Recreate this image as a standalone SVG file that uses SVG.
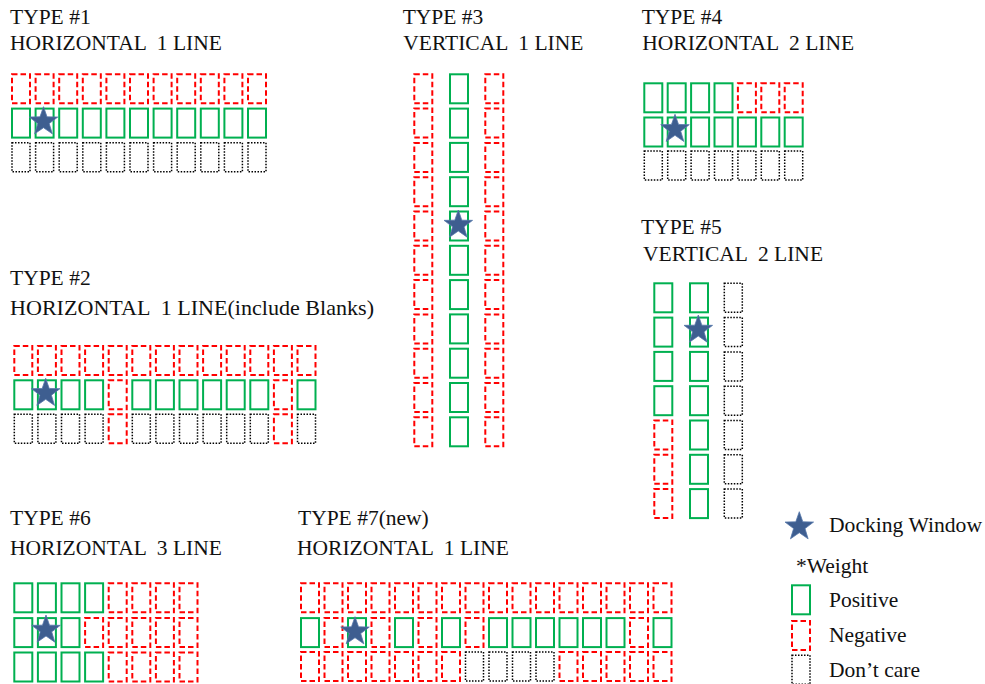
<svg xmlns="http://www.w3.org/2000/svg" width="985" height="684" viewBox="0 0 985 684" font-family="'Liberation Serif', 'Times New Roman', serif" font-size="21.5">
<style>
.p{fill:none;stroke:#00B050;stroke-width:2}
.n{fill:none;stroke:#FF0000;stroke-width:2;stroke-dasharray:5.5 3}
.d{fill:none;stroke:#000;stroke-width:1.5;stroke-dasharray:1.5 1.5}
.star{fill:#3E5E90;stroke:#5577AA;stroke-width:0.8}
</style>
<defs>
<rect id="P" class="p" width="18" height="29"/>
<rect id="N" class="n" width="18" height="29"/>
<rect id="D" class="d" width="18" height="29"/>
<polygon id="S" class="star" points="0,-15 3.527,-4.854 14.266,-4.635 5.706,1.854 8.817,12.135 0,6 -8.817,12.135 -5.706,1.854 -14.266,-4.635 -3.527,-4.854"/>
</defs>
<rect width="985" height="684" fill="#fff"/>

<g id="type1">
<text x="10" y="24" font-family="Liberation Serif" fill="#111">TYPE #1</text>
<text x="10" y="50" font-family="Liberation Serif" fill="#111" style="white-space:pre">HORIZONTAL  1 LINE</text>
<g transform="translate(12,74.3)">
<use href="#N" x="0" y="0"/><use href="#N" x="23.6" y="0"/><use href="#N" x="47.2" y="0"/><use href="#N" x="70.8" y="0"/><use href="#N" x="94.4" y="0"/><use href="#N" x="118" y="0"/><use href="#N" x="141.6" y="0"/><use href="#N" x="165.2" y="0"/><use href="#N" x="188.8" y="0"/><use href="#N" x="212.4" y="0"/><use href="#N" x="236" y="0"/>
<use href="#P" x="0" y="34.3"/><use href="#P" x="23.6" y="34.3"/><use href="#P" x="47.2" y="34.3"/><use href="#P" x="70.8" y="34.3"/><use href="#P" x="94.4" y="34.3"/><use href="#P" x="118" y="34.3"/><use href="#P" x="141.6" y="34.3"/><use href="#P" x="165.2" y="34.3"/><use href="#P" x="188.8" y="34.3"/><use href="#P" x="212.4" y="34.3"/><use href="#P" x="236" y="34.3"/>
<use href="#D" x="0" y="68.4"/><use href="#D" x="23.6" y="68.4"/><use href="#D" x="47.2" y="68.4"/><use href="#D" x="70.8" y="68.4"/><use href="#D" x="94.4" y="68.4"/><use href="#D" x="118" y="68.4"/><use href="#D" x="141.6" y="68.4"/><use href="#D" x="165.2" y="68.4"/><use href="#D" x="188.8" y="68.4"/><use href="#D" x="212.4" y="68.4"/><use href="#D" x="236" y="68.4"/>
</g>
<use href="#S" x="43.5" y="121.7"/>
</g>

<g id="type2">
<text x="10" y="285" font-family="Liberation Serif" fill="#111">TYPE #2</text>
<text x="10" y="315" font-family="Liberation Serif" fill="#111" style="white-space:pre" textLength="364" lengthAdjust="spacingAndGlyphs">HORIZONTAL  1 LINE(include Blanks)</text>
<g transform="translate(14.3,346)">
<use href="#N" x="0" y="0"/><use href="#N" x="23.6" y="0"/><use href="#N" x="47.2" y="0"/><use href="#N" x="70.8" y="0"/><use href="#N" x="94.4" y="0"/><use href="#N" x="118" y="0"/><use href="#N" x="141.6" y="0"/><use href="#N" x="165.2" y="0"/><use href="#N" x="188.8" y="0"/><use href="#N" x="212.4" y="0"/><use href="#N" x="236" y="0"/><use href="#N" x="259.6" y="0"/><use href="#N" x="283.2" y="0"/>
<use href="#P" x="0" y="34.3"/><use href="#P" x="23.6" y="34.3"/><use href="#P" x="47.2" y="34.3"/><use href="#P" x="70.8" y="34.3"/><use href="#N" x="94.4" y="34.3"/><use href="#P" x="118" y="34.3"/><use href="#P" x="141.6" y="34.3"/><use href="#P" x="165.2" y="34.3"/><use href="#P" x="188.8" y="34.3"/><use href="#P" x="212.4" y="34.3"/><use href="#P" x="236" y="34.3"/><use href="#N" x="259.6" y="34.3"/><use href="#P" x="283.2" y="34.3"/>
<use href="#D" x="0" y="68.2"/><use href="#D" x="23.6" y="68.2"/><use href="#D" x="47.2" y="68.2"/><use href="#D" x="70.8" y="68.2"/><use href="#N" x="94.4" y="68.2"/><use href="#D" x="118" y="68.2"/><use href="#D" x="141.6" y="68.2"/><use href="#D" x="165.2" y="68.2"/><use href="#D" x="188.8" y="68.2"/><use href="#D" x="212.4" y="68.2"/><use href="#D" x="236" y="68.2"/><use href="#N" x="259.6" y="68.2"/><use href="#D" x="283.2" y="68.2"/>
</g>
<use href="#S" x="45.7" y="393.3"/>
</g>

<g id="type3">
<text x="402.7" y="24" font-family="Liberation Serif" fill="#111">TYPE #3</text>
<text x="403.3" y="50" font-family="Liberation Serif" fill="#111" style="white-space:pre">VERTICAL  1 LINE</text>
<g transform="translate(414.3,74.3)">
<use href="#N" x="0" y="0"/><use href="#N" x="0" y="34.3"/><use href="#N" x="0" y="68.6"/><use href="#N" x="0" y="102.9"/><use href="#N" x="0" y="137.2"/><use href="#N" x="0" y="171.5"/><use href="#N" x="0" y="205.8"/><use href="#N" x="0" y="240.1"/><use href="#N" x="0" y="274.4"/><use href="#N" x="0" y="308.7"/><use href="#N" x="0" y="343"/>
<use href="#P" x="35.7" y="0"/><use href="#P" x="35.7" y="34.3"/><use href="#P" x="35.7" y="68.6"/><use href="#P" x="35.7" y="102.9"/><use href="#P" x="35.7" y="137.2"/><use href="#P" x="35.7" y="171.5"/><use href="#P" x="35.7" y="205.8"/><use href="#P" x="35.7" y="240.1"/><use href="#P" x="35.7" y="274.4"/><use href="#P" x="35.7" y="308.7"/><use href="#P" x="35.7" y="343"/>
<use href="#N" x="71" y="0"/><use href="#N" x="71" y="34.3"/><use href="#N" x="71" y="68.6"/><use href="#N" x="71" y="102.9"/><use href="#N" x="71" y="137.2"/><use href="#N" x="71" y="171.5"/><use href="#N" x="71" y="205.8"/><use href="#N" x="71" y="240.1"/><use href="#N" x="71" y="274.4"/><use href="#N" x="71" y="308.7"/><use href="#N" x="71" y="343"/>
</g>
<use href="#S" x="458.3" y="225"/>
</g>

<g id="type4">
<text x="641.7" y="24" font-family="Liberation Serif" fill="#111">TYPE #4</text>
<text x="642.3" y="50" font-family="Liberation Serif" fill="#111" style="white-space:pre">HORIZONTAL  2 LINE</text>
<g transform="translate(644.3,83.3)">
<use href="#P" x="0" y="0"/><use href="#P" x="23.4" y="0"/><use href="#P" x="46.8" y="0"/><use href="#P" x="70.2" y="0"/><use href="#N" x="93.6" y="0"/><use href="#N" x="117" y="0"/><use href="#N" x="140.4" y="0"/>
<use href="#P" x="0" y="34.2"/><use href="#P" x="23.4" y="34.2"/><use href="#P" x="46.8" y="34.2"/><use href="#P" x="70.2" y="34.2"/><use href="#P" x="93.6" y="34.2"/><use href="#P" x="117" y="34.2"/><use href="#P" x="140.4" y="34.2"/>
<use href="#D" x="0" y="67.8"/><use href="#D" x="23.4" y="67.8"/><use href="#D" x="46.8" y="67.8"/><use href="#D" x="70.2" y="67.8"/><use href="#D" x="93.6" y="67.8"/><use href="#D" x="117" y="67.8"/><use href="#D" x="140.4" y="67.8"/>
</g>
<use href="#S" x="675" y="129.3"/>
</g>

<g id="type5">
<text x="641" y="234" font-family="Liberation Serif" fill="#111">TYPE #5</text>
<text x="643" y="261" font-family="Liberation Serif" fill="#111" style="white-space:pre">VERTICAL  2 LINE</text>
<g transform="translate(654.3,283.3)">
<use href="#P" x="0" y="0"/><use href="#P" x="0" y="34.3"/><use href="#P" x="0" y="68.6"/><use href="#P" x="0" y="102.9"/><use href="#N" x="0" y="137.2"/><use href="#N" x="0" y="171.5"/><use href="#N" x="0" y="205.8"/>
<use href="#P" x="35.7" y="0"/><use href="#P" x="35.7" y="34.3"/><use href="#P" x="35.7" y="68.6"/><use href="#P" x="35.7" y="102.9"/><use href="#P" x="35.7" y="137.2"/><use href="#P" x="35.7" y="171.5"/><use href="#P" x="35.7" y="205.8"/>
<use href="#D" x="70" y="0"/><use href="#D" x="70" y="34.3"/><use href="#D" x="70" y="68.6"/><use href="#D" x="70" y="102.9"/><use href="#D" x="70" y="137.2"/><use href="#D" x="70" y="171.5"/><use href="#D" x="70" y="205.8"/>
</g>
<use href="#S" x="698.3" y="330"/>
</g>

<g id="type6">
<text x="10" y="525" font-family="Liberation Serif" fill="#111">TYPE #6</text>
<text x="10" y="555" font-family="Liberation Serif" fill="#111" style="white-space:pre">HORIZONTAL  3 LINE</text>
<g transform="translate(14.3,583.3)">
<use href="#P" x="0" y="0"/><use href="#P" x="23.6" y="0"/><use href="#P" x="47.2" y="0"/><use href="#P" x="70.8" y="0"/><use href="#N" x="94.4" y="0"/><use href="#N" x="118" y="0"/><use href="#N" x="141.6" y="0"/><use href="#N" x="165.2" y="0"/>
<use href="#P" x="0" y="34.8"/><use href="#P" x="23.6" y="34.8"/><use href="#P" x="47.2" y="34.8"/><use href="#N" x="70.8" y="34.8"/><use href="#N" x="94.4" y="34.8"/><use href="#N" x="118" y="34.8"/><use href="#N" x="141.6" y="34.8"/><use href="#N" x="165.2" y="34.8"/>
<use href="#P" x="0" y="69.2"/><use href="#P" x="23.6" y="69.2"/><use href="#P" x="47.2" y="69.2"/><use href="#P" x="70.8" y="69.2"/><use href="#N" x="94.4" y="69.2"/><use href="#N" x="118" y="69.2"/><use href="#N" x="141.6" y="69.2"/><use href="#N" x="165.2" y="69.2"/>
</g>
<use href="#S" x="46" y="630"/>
</g>

<g id="type7">
<text x="298" y="525" font-family="Liberation Serif" fill="#111">TYPE #7(new)</text>
<text x="297" y="555" font-family="Liberation Serif" fill="#111" style="white-space:pre">HORIZONTAL  1 LINE</text>
<g transform="translate(301,583.3)">
<use href="#N" x="0" y="0"/><use href="#N" x="23.5" y="0"/><use href="#N" x="47" y="0"/><use href="#N" x="70.5" y="0"/><use href="#N" x="94" y="0"/><use href="#N" x="117.5" y="0"/><use href="#N" x="141" y="0"/><use href="#N" x="164.5" y="0"/><use href="#N" x="188" y="0"/><use href="#N" x="211.5" y="0"/><use href="#N" x="235" y="0"/><use href="#N" x="258.5" y="0"/><use href="#N" x="282" y="0"/><use href="#N" x="305.5" y="0"/><use href="#N" x="329" y="0"/><use href="#N" x="352.5" y="0"/>
<use href="#P" x="0" y="34.8"/><use href="#N" x="23.5" y="34.8"/><use href="#P" x="47" y="34.8"/><use href="#N" x="70.5" y="34.8"/><use href="#P" x="94" y="34.8"/><use href="#N" x="117.5" y="34.8"/><use href="#P" x="141" y="34.8"/><use href="#N" x="164.5" y="34.8"/><use href="#P" x="188" y="34.8"/><use href="#P" x="211.5" y="34.8"/><use href="#P" x="235" y="34.8"/><use href="#P" x="258.5" y="34.8"/><use href="#P" x="282" y="34.8"/><use href="#P" x="305.5" y="34.8"/><use href="#N" x="329" y="34.8"/><use href="#P" x="352.5" y="34.8"/>
<use href="#N" x="0" y="68.8"/><use href="#N" x="23.5" y="68.8"/><use href="#N" x="47" y="68.8"/><use href="#N" x="70.5" y="68.8"/><use href="#N" x="94" y="68.8"/><use href="#N" x="117.5" y="68.8"/><use href="#N" x="141" y="68.8"/><use href="#D" x="164.5" y="68.8"/><use href="#D" x="188" y="68.8"/><use href="#D" x="211.5" y="68.8"/><use href="#D" x="235" y="68.8"/><use href="#N" x="258.5" y="68.8"/><use href="#N" x="282" y="68.8"/><use href="#N" x="305.5" y="68.8"/><use href="#N" x="329" y="68.8"/><use href="#N" x="352.5" y="68.8"/>
</g>
<use href="#S" x="355" y="631.7"/>
</g>

<g id="legend">
<use href="#S" x="799.3" y="526.7"/>
<text x="829" y="531.5" font-family="Liberation Serif" fill="#111" textLength="153" lengthAdjust="spacingAndGlyphs">Docking Window</text>
<text x="796" y="573" font-family="Liberation Serif" fill="#111">*Weight</text>
<use href="#P" x="792" y="585.3"/>
<text x="829" y="607" font-family="Liberation Serif" fill="#111">Positive</text>
<use href="#N" x="792" y="621"/>
<text x="829" y="642" font-family="Liberation Serif" fill="#111">Negative</text>
<use href="#D" x="792" y="655.3"/>
<text x="829" y="677" font-family="Liberation Serif" fill="#111">Don’t care</text>
</g>

<g id="connectors"></g>
</svg>
